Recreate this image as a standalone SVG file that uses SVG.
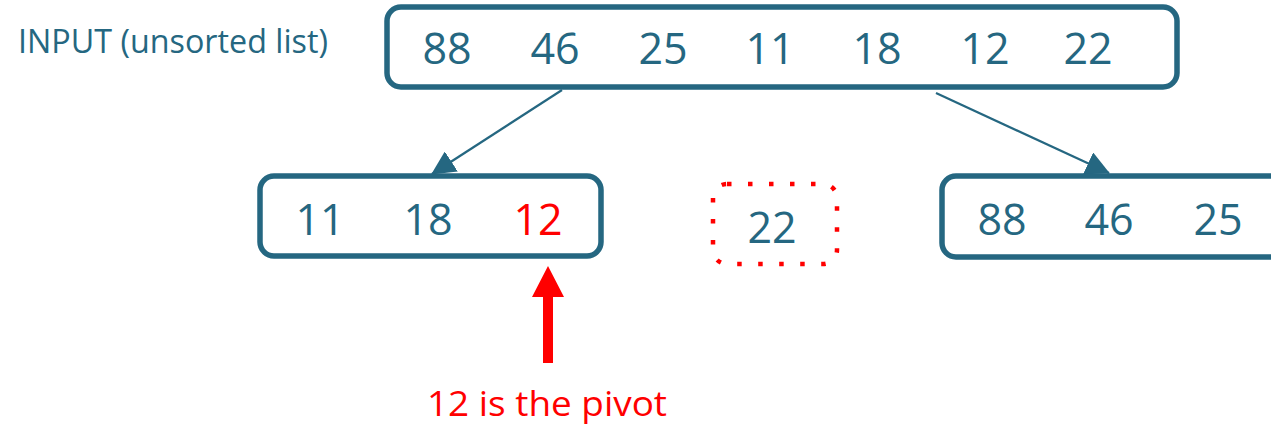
<svg xmlns="http://www.w3.org/2000/svg" width="1271" height="426" viewBox="0 0 1271 426">
  <style>
    .box { fill: #ffffff; stroke: #256781; stroke-width: 5.5; }
    .num { font-family: "Open Sans", "Liberation Sans", sans-serif; font-size: 43px; fill: #256781; text-anchor: middle; }
    .pivot { fill: #ff0000; }
    .edge { stroke: #256781; stroke-width: 2.2; fill: none; marker-end: url(#tri); }
    .label { font-family: "Open Sans", "Liberation Sans", sans-serif; fill: #256781; }
  </style>
  <defs>
    <marker id="tri" markerUnits="userSpaceOnUse" markerWidth="24" markerHeight="24" viewBox="0 0 24 24" refX="23" refY="12" orient="auto">
      <path d="M0,0 L24,12 L0,24 z" fill="#256781"/>
    </marker>
  </defs>

  <g id="input-label">
    <text class="label" x="18" y="53" font-size="32" textLength="310" lengthAdjust="spacingAndGlyphs">INPUT (unsorted list)</text>
  </g>

  <!-- split connectors -->
  <g id="connectors">
    <line class="edge" x1="562" y1="90" x2="432" y2="174"/>
    <line class="edge" x1="936" y1="93" x2="1109" y2="173"/>
  </g>

  <g id="input-list">
    <rect class="box" x="387" y="7" width="790" height="80" rx="14"/>
    <text class="num" x="447" y="64">88</text>
    <text class="num" x="555" y="64">46</text>
    <text class="num" x="663" y="64">25</text>
    <text class="num" x="770" y="64">11</text>
    <text class="num" x="877" y="64">18</text>
    <text class="num" x="985" y="64">12</text>
    <text class="num" x="1088" y="64">22</text>
  </g>

  <g id="left-partition">
    <rect class="box" x="260" y="176" width="341" height="80" rx="14"/>
    <text class="num" x="320" y="235">11</text>
    <text class="num" x="428" y="235">18</text>
    <text class="num pivot" x="538" y="235">12</text>
  </g>

  <g id="chosen-element">
    <rect x="713" y="184" width="124" height="80" rx="14" fill="none" stroke="#ff0000" stroke-width="4.5" stroke-dasharray="4.5 16.5"/>
    <text class="num" x="772" y="243">22</text>
  </g>

  <g id="right-partition">
    <rect class="box" x="942" y="176" width="360" height="81" rx="14"/>
    <text class="num" x="1002" y="235">88</text>
    <text class="num" x="1109" y="235">46</text>
    <text class="num" x="1218" y="235">25</text>
  </g>

  <g id="pivot-note">
    <path d="M548,266 L564,297 L553,297 L553,363 L543,363 L543,297 L532,297 Z" fill="#ff0000"/>
    <text x="427" y="416" font-family="'Open Sans', 'Liberation Sans', sans-serif" font-size="34" fill="#ff0000" textLength="240" lengthAdjust="spacingAndGlyphs">12 is the pivot</text>
  </g>
</svg>
